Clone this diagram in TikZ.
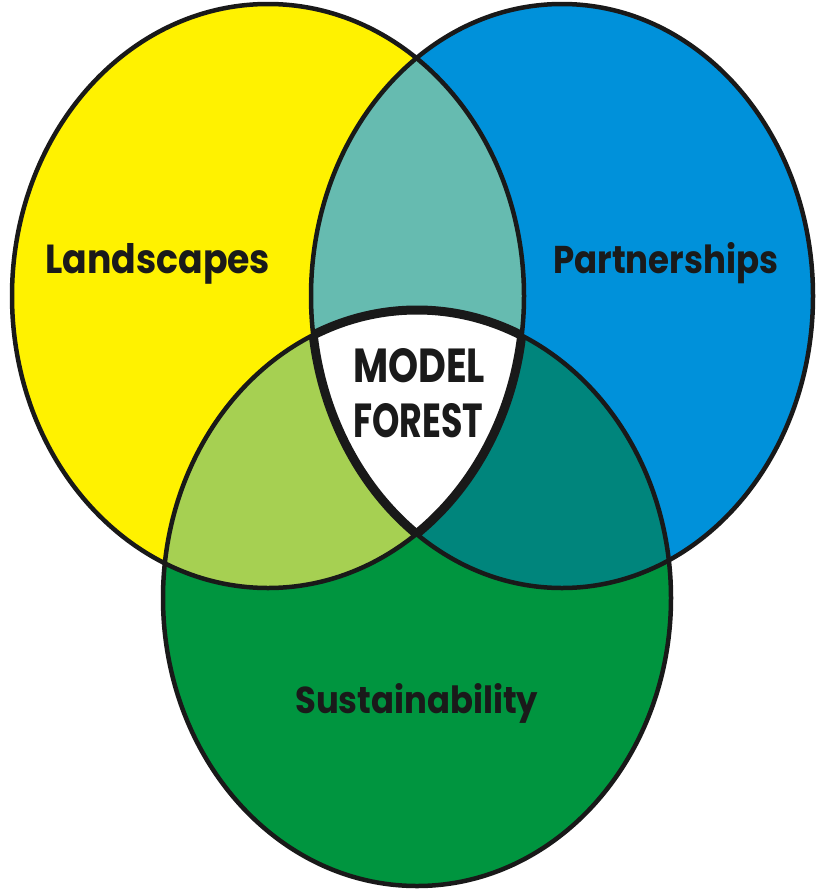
\documentclass[tikz,border=0pt]{standalone}
\usepackage{fontspec}
\newfontfamily\pop{Poppins}
\definecolor{cyel}{HTML}{FFF200}
\definecolor{cblu}{HTML}{0091DA}
\definecolor{cgrn}{HTML}{00953F}
\definecolor{cyb}{HTML}{66BBB0}
\definecolor{cyg}{HTML}{A6D052}
\definecolor{cbg}{HTML}{00857C}
\definecolor{ctxt}{HTML}{1A1A1A}
\tikzset{
  outline/.style={draw=black!90,line width=4.5pt},
  lbl/.style={inner sep=0pt,anchor=base west,text=ctxt}
}
\newcommand{\ellY}{(268,296) ellipse [x radius=256,y radius=292]}
\newcommand{\ellB}{(562,296) ellipse [x radius=251,y radius=292]}
\newcommand{\ellG}{(417,598) ellipse [x radius=254,y radius=288]}
\begin{document}
\begin{tikzpicture}[x=1pt,y=-1pt]
\useasboundingbox (0,0) rectangle (816,889);
% base fills
\fill[cyel] \ellY;
\fill[cblu] \ellB;
\fill[cgrn] \ellG;
% pairwise overlaps
\begin{scope}\clip \ellY; \fill[cyb] \ellB; \end{scope}
\begin{scope}\clip \ellY; \fill[cyg] \ellG; \end{scope}
\begin{scope}\clip \ellB; \fill[cbg] \ellG; \end{scope}
% centre
\begin{scope}\clip \ellY; \clip \ellB; \fill[white] \ellG; \end{scope}
% outlines
\draw[outline] \ellY;
\draw[outline] \ellB;
\draw[outline] \ellG;
% thicker centre border (inner side)
\begin{scope}\clip \ellY; \clip \ellB; \draw[draw=black!90,line width=9pt] \ellG; \end{scope}
\begin{scope}\clip \ellY; \clip \ellG; \draw[draw=black!90,line width=9pt] \ellB; \end{scope}
\begin{scope}\clip \ellB; \clip \ellG; \draw[draw=black!90,line width=9pt] \ellY; \end{scope}
% labels
\node[lbl] (land) at (45,273) {\resizebox{225pt}{30pt}{\pop\bfseries Landscapes}};
\node[lbl] (part) at (553,273) {\resizebox{225pt}{31pt}{\pop\bfseries Partnerships}};
\node[lbl] (sust) at (295,713) {\resizebox{243pt}{30pt}{\pop\bfseries Sustainability}};
\node[lbl] (model) at (353,382) {\resizebox{132pt}{34pt}{\pop\bfseries MODEL}};
\node[lbl] (forest) at (353,437) {\resizebox{130pt}{34pt}{\pop\bfseries FOREST}};
\end{tikzpicture}
\end{document}
